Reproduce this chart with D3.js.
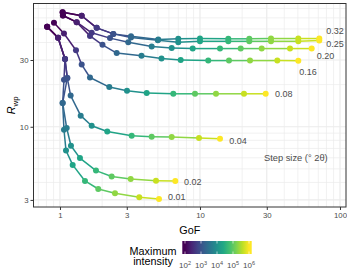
<!DOCTYPE html>
<html><head><meta charset="utf-8">
<script src="https://cdn.jsdelivr.net/npm/d3@7"></script>
<style>html,body{margin:0;padding:0;background:#fff;}svg{display:block;font-family:"Liberation Sans",Arial,sans-serif;}</style>
</head><body>
<svg id="c" width="347" height="275"></svg>
<script>
// ---- data ----
const stepSizes = ["0.01","0.02","0.04","0.08","0.16","0.20","0.25","0.32"];
const intensityLog = [2, 2.33, 2.67, 3, 3.33, 3.67, 4, 4.33, 4.67, 5, 5.33, 5.67, 6];
const gof001 = [0.81, 0.97, 1.086, 1.068, 1.045, 1.068, 1.104, 1.232, 1.509, 1.877, 2.471, 3.685, 5.096];
const rwp001 = [51.8, 43.2, 30.5, 21.7, 14.8, 9.52, 6.76, 5.34, 4.10, 3.59, 3.35, 3.13, 3.05];
const gof002 = [0.81, 0.97, 1.086, 1.128, 1.045, 1.117, 1.198, 1.389, 1.808, 2.34, 3.199, 4.851, 6.663];
const rwp002 = [51.8, 43.2, 30.5, 22.3, 14.8, 9.79, 7.31, 5.97, 4.86, 4.41, 4.24, 4.12, 4.10];
const gof004 = [0.81, 0.97, 1.086, 1.128, 1.192, 1.406, 1.684, 2.177, 3.252, 4.519, 6.28, 9.84, 13.9];
const rwp004 = [51.8, 43.2, 30.5, 22.3, 16.7, 12.0, 10.17, 9.25, 8.62, 8.48, 8.44, 8.30, 8.2];
const gof008 = [0.906, 1.068, 1.301, 1.429, 1.638, 2.25, 3.01, 4.163, 6.447, 9.21, 13.01, 20.62, 29.47];
const rwp008 = [55.3, 46.4, 35.2, 27.8, 22.5, 19.2, 18.1, 17.4, 17.2, 17.2, 17.2, 17.2, 17.2];
const gof016 = [1.05, 1.316, 1.638, 2.012, 2.541, 3.821, 5.309, 7.279, 11.46, 16.11, 22.76, 35.66, 50.37];
const rwp016 = [62.4, 55.9, 44.6, 38.5, 33.6, 32.2, 30.7, 30.0, 29.7, 29.7, 29.7, 29.7, 29.6];
const gof020 = [1.05, 1.316, 1.684, 2.276, 3.075, 4.519, 6.28, 8.87, 13.9, 19.53, 27.59, 43.95, 62.8];
const rwp020 = [62.4, 55.9, 46.9, 43.0, 40.2, 37.4, 36.6, 36.2, 36.2, 36.2, 36.2, 36.2, 36.2];
const gof025 = [1.045, 1.429, 1.829, 2.403, 3.215, 5.0, 6.998, 10, 15.93, 22.5, 32.15, 50.37, 71.16];
const rwp025 = [65.9, 62.1, 50.9, 46.1, 43.5, 41.5, 40.2, 40.8, 40.8, 40.8, 40.8, 40.8, 41.3];
const gof032 = [1.045, 1.429, 1.829, 2.403, 3.215, 5.037, 6.998, 10, 15.93, 22.5, 32.15, 50.37, 71.16];
const rwp032 = [65.9, 62.1, 50.9, 46.1, 44.4, 42.0, 42.5, 42.7, 42.5, 42.5, 42.7, 42.7, 42.7];
const xTicks = [1, 3, 10, 30, 100];
const yTicks = [3, 10, 30];
const legendTicks = [2, 3, 4, 5, 6];

const gofs = [gof001, gof002, gof004, gof008, gof016, gof020, gof025, gof032];
const rwps = [rwp001, rwp002, rwp004, rwp008, rwp016, rwp020, rwp025, rwp032];
// label nudges (pixels) relative to last point
const labelNudge = [[9,-2.3],[8.7,1],[9.3,1.7],[9.3,0],[1,10.7],[5,7],[7,3],[7,-8]];

// ---- layout ----
const svg = d3.select("#c");
const L = 33.5, R = 346, T = 3.5, B = 207;
const x = d3.scaleLog().domain([0.647, 110.4]).range([L, R]);
const y = d3.scaleLog().domain([2.67, 76]).range([B, T]);
const col = v => d3.interpolateViridis((v - 2) / 4);

// grid
const xMinor = [], yMinor = [];
[0.1, 1, 10].forEach(d => { for (let k = 2; k <= 9; k++) xMinor.push(k * d); });
[1, 10].forEach(d => { for (let k = 2; k <= 9; k++) yMinor.push(k * d); });
const g = svg.append("g");
g.selectAll(".xm").data(xMinor.filter(v => v > 0.647 && v < 110 && !xTicks.includes(v))).enter().append("line")
  .attr("x1", d => x(d)).attr("x2", d => x(d)).attr("y1", T).attr("y2", B).attr("stroke", "#ebebeb").attr("stroke-width", 0.7);
g.selectAll(".ym").data(yMinor.filter(v => v > 2.67 && v < 76 && !yTicks.includes(v))).enter().append("line")
  .attr("y1", d => y(d)).attr("y2", d => y(d)).attr("x1", L).attr("x2", R).attr("stroke", "#ebebeb").attr("stroke-width", 0.7);
g.selectAll(".xM").data(xTicks).enter().append("line")
  .attr("x1", d => x(d)).attr("x2", d => x(d)).attr("y1", T).attr("y2", B).attr("stroke", "#ebebeb").attr("stroke-width", 1.2);
g.selectAll(".yM").data(yTicks).enter().append("line")
  .attr("y1", d => y(d)).attr("y2", d => y(d)).attr("x1", L).attr("x2", R).attr("stroke", "#ebebeb").attr("stroke-width", 1.2);

// series
stepSizes.forEach((s, si) => {
  const pts = gofs[si].map((gv, i) => ({ gx: gv, ry: rwps[si][i], c: intensityLog[i] }));
  const sg = svg.append("g");
  sg.selectAll("line").data(pts.slice(0, -1)).enter().append("line")
    .attr("x1", d => x(d.gx)).attr("y1", d => y(d.ry))
    .attr("x2", (d, i) => x(pts[i + 1].gx)).attr("y2", (d, i) => y(pts[i + 1].ry))
    .attr("stroke", d => col(d.c)).attr("stroke-width", 1.5);
  sg.selectAll("circle").data(pts).enter().append("circle")
    .attr("cx", d => x(d.gx)).attr("cy", d => y(d.ry)).attr("r", 3).attr("fill", d => col(d.c));
});
stepSizes.forEach((s, si) => {
  const n = gofs[si].length - 1;
  svg.append("text").attr("x", x(gofs[si][n]) + labelNudge[si][0]).attr("y", y(rwps[si][n]) + labelNudge[si][1])
    .attr("dy", "0.35em").attr("font-size", 9).attr("fill", "#4d4d4d").text(s);
});

// border
svg.append("rect").attr("x", L).attr("y", T).attr("width", R - L).attr("height", B - T)
  .attr("fill", "none").attr("stroke", "#333").attr("stroke-width", 1);

// axes
const ax = svg.append("g").attr("transform", `translate(0,${B})`)
  .call(d3.axisBottom(x).tickValues(xTicks).tickFormat(d3.format("d")).tickSize(3).tickPadding(2));
const ay = svg.append("g").attr("transform", `translate(${L},0)`)
  .call(d3.axisLeft(y).tickValues(yTicks).tickFormat(d3.format("d")).tickSize(3).tickPadding(2));
[ax, ay].forEach(a => {
  a.select(".domain").remove();
  a.selectAll(".tick line").attr("stroke", "#333");
  a.selectAll(".tick text").attr("fill", "#4d4d4d").attr("font-size", 7.8).attr("font-family", "Liberation Sans, Arial, sans-serif");
});

// axis titles
svg.append("text").attr("x", (L + R) / 2).attr("y", 234).attr("text-anchor", "middle")
  .attr("font-size", 10.8).attr("fill", "#000").text("GoF");
const yt = svg.append("text").attr("transform", `translate(15,${(T + B) / 2}) rotate(-90)`)
  .attr("text-anchor", "middle").attr("font-size", 10.8).attr("fill", "#000");
yt.append("tspan").attr("font-style", "italic").text("R");
yt.append("tspan").attr("font-size", 8).attr("dy", 2.5).text("wp");

svg.append("text").attr("x", 264).attr("y", 158).attr("dy", "0.35em").attr("font-size", 9.3)
  .attr("fill", "#4d4d4d").text("Step size (° 2θ)");

// legend
const lx = d3.scaleLinear().domain([2, 6]).range([185, 249]);
const defs = svg.append("defs");
const grad = defs.append("linearGradient").attr("id", "vg");
d3.range(0, 1.0001, 0.1).forEach(t => grad.append("stop").attr("offset", t).attr("stop-color", d3.interpolateViridis(t)));
svg.append("rect").attr("x", lx(2)).attr("y", 241).attr("width", lx(6) - lx(2)).attr("height", 13).attr("fill", "url(#vg)");
svg.append("rect").attr("x", 182.3).attr("y", 241).attr("width", lx(2) - 182.3).attr("height", 13).attr("fill", d3.interpolateViridis(0));
svg.append("rect").attr("x", lx(6)).attr("y", 241).attr("width", 251.7 - lx(6)).attr("height", 13).attr("fill", d3.interpolateViridis(1));
legendTicks.forEach(v => {
  svg.append("line").attr("x1", lx(v)).attr("x2", lx(v)).attr("y1", 241).attr("y2", 243.5).attr("stroke", "#fff").attr("stroke-width", 0.6);
  svg.append("line").attr("x1", lx(v)).attr("x2", lx(v)).attr("y1", 251.5).attr("y2", 254).attr("stroke", "#fff").attr("stroke-width", 0.6);
  const t = svg.append("text").attr("x", lx(v)).attr("y", 268).attr("text-anchor", "middle").attr("font-size", 8).attr("fill", "#4d4d4d");
  t.append("tspan").text("10");
  t.append("tspan").attr("font-size", 5.5).attr("dy", -3.5).text(String(v));
});
svg.append("text").attr("x", 153).attr("y", 254.5).attr("text-anchor", "middle").attr("font-size", 10.8).text("Maximum");
svg.append("text").attr("x", 153).attr("y", 265).attr("text-anchor", "middle").attr("font-size", 10.8).text("intensity");
</script>
</body></html>
